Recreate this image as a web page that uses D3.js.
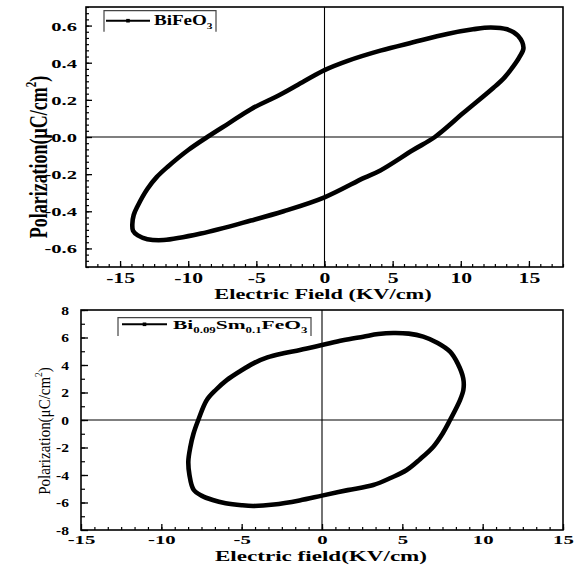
<!DOCTYPE html>
<html><head><meta charset="utf-8">
<script src="https://cdn.jsdelivr.net/npm/d3@7"></script>
<style>
body{margin:0;background:#fff}
svg{display:block}
text{font-family:"Liberation Serif","Times New Roman",serif;fill:#000}
</style>
</head><body>
<svg id="c" width="576" height="565"></svg>
<script>
// ---------- DATA ----------
// Top panel: BiFeO3 P-E loop (E in kV/cm, P in µC/cm²)
const fieldBFO = [-14.1,-14.0,-13.7,-13.0,-12.3,-11.5,-10.0,-8.6,-7.0,-5.4,-3.2,-1.5,0,1.7,4.1,6.5,9.0,10.9,12.2,13.4,14.2,14.6,14.3,13.85,13.2,12.4,10.2,8.1,6.5,4.1,2.9,0,-3.0,-5.4,-9.07,-11.8,-13.0,-13.7,-14.05];
const polBFO   = [-0.47,-0.42,-0.37,-0.28,-0.215,-0.16,-0.07,0.0,0.075,0.15,0.23,0.30,0.36,0.41,0.465,0.51,0.555,0.58,0.59,0.58,0.545,0.48,0.43,0.38,0.32,0.265,0.13,0.0,-0.07,-0.18,-0.22,-0.325,-0.40,-0.45,-0.52,-0.555,-0.55,-0.53,-0.505];
// Bottom panel: Bi0.09Sm0.1FeO3 P-E loop
const fieldBSFO = [-7.7,-7.17,-6.6,-5.93,-5.1,-4.27,-3.4,-2.4,-1.37,0,1.3,2.57,3.5,4.44,5.4,6.3,7.2,7.97,8.45,8.79,8.8,8.59,7.97,7.5,6.93,6.1,5.27,4.3,3.19,1.6,0,-1.4,-3.0,-4.27,-5.0,-6.0,-6.8,-7.5,-8.0,-8.25,-8.32,-8.2,-8.0];
const polBSFO   = [0.0,1.45,2.2,2.9,3.55,4.12,4.55,4.85,5.09,5.45,5.8,6.06,6.25,6.33,6.28,6.06,5.6,4.97,4.1,3.03,2.2,1.45,0.0,-1.0,-1.94,-2.85,-3.64,-4.2,-4.73,-5.1,-5.5,-5.85,-6.15,-6.25,-6.2,-6.05,-5.82,-5.5,-5.05,-4.0,-3.0,-2.0,-1.0];
// Axis ticks
const xTicksTop = [-15,-10,-5,0,5,10,15];
const yTicksTop = [-0.6,-0.4,-0.2,0.0,0.2,0.4,0.6];
const xTicksBot = [-15,-10,-5,0,5,10,15];
const yTicksBot = [-8,-6,-4,-2,0,2,4,6,8];
// Legend labels
const legendTopParts = [["BiFeO",false],["3",true]];
const legendBotParts = [["Bi",false],["0.09",true],["Sm",false],["0.1",true],["FeO",false],["3",true]];

// ---------- DRAW ----------
const svg = d3.select("#c");
const hy = s => s.replace(/\u2212/g,"-");

function panel(o){
  const g = svg.append("g");
  const x = d3.scaleLinear().domain(o.xDom).range([o.L,o.R]);
  const y = d3.scaleLinear().domain(o.yDom).range([o.B,o.T]);

  g.append("line").attr("x1",x(0)).attr("x2",x(0)).attr("y1",o.T).attr("y2",o.B)
    .attr("stroke","#000").attr("stroke-width",1.1);
  g.append("line").attr("x1",o.L).attr("x2",o.R).attr("y1",y(0)).attr("y2",y(0))
    .attr("stroke","#000").attr("stroke-width",1.1);

  const minorX = d3.range(o.xDom[0], o.xDom[1]+1e-6, o.xMinor).filter(v=>v>o.xDom[0]+1e-6);
  const minorY = d3.range(o.yMinorStart, o.yDom[1]+1e-6, o.yMinor);
  g.append("g").attr("transform",`translate(0,${o.B})`)
    .call(d3.axisBottom(x).tickValues(minorX).tickSize(-3).tickFormat(""))
    .call(s=>s.select(".domain").remove())
    .selectAll("line").attr("stroke-width",1.2);
  g.append("g").attr("transform",`translate(${o.L},0)`)
    .call(d3.axisLeft(y).tickValues(minorY).tickSize(-o.yMinorLen).tickFormat(""))
    .call(s=>s.select(".domain").remove())
    .selectAll("line").attr("stroke-width",1.2);

  const gx = g.append("g").attr("transform",`translate(0,${o.B})`)
    .call(d3.axisBottom(x).tickValues(o.xTicks).tickSizeInner(-6).tickSizeOuter(0)
      .tickFormat(d=>hy(d3.format("d")(d))));
  gx.select(".domain").remove();
  gx.selectAll("line").attr("stroke-width",1.3);
  gx.selectAll("text").attr("y",o.xLabY).attr("dy",0)
    .attr("font-size",o.xTickFs).attr("font-weight","bold").attr("font-family","Liberation Serif")
    .attr("transform",`scale(${o.xTickSx},1)`);

  const gy = g.append("g").attr("transform",`translate(${o.L},0)`)
    .call(d3.axisLeft(y).tickValues(o.yTicks).tickSizeInner(-o.yMajorLen).tickSizeOuter(0)
      .tickFormat(d=>hy(d3.format(o.yFmt)(d))));
  gy.select(".domain").remove();
  gy.selectAll("line").attr("stroke-width",1.3);
  gy.selectAll("text").attr("x",-o.yLabGap/o.yTickSx).attr("dy","0.35em")
    .attr("font-size",o.yTickFs).attr("font-weight","bold").attr("font-family","Liberation Serif")
    .attr("transform",`scale(${o.yTickSx},1)`);

  g.append("rect").attr("x",o.L).attr("y",o.T).attr("width",o.R-o.L).attr("height",o.B-o.T)
    .attr("fill","none").attr("stroke","#000").attr("stroke-width",1.6);

  const pts = o.xs.map((v,i)=>[v,o.ys[i]]);
  g.append("path").datum(pts)
    .attr("d",d3.line().x(d=>x(d[0])).y(d=>y(d[1])).curve(d3.curveCatmullRomClosed.alpha(0.5)))
    .attr("fill","none").attr("stroke","#000").attr("stroke-width",4.6)
    .attr("stroke-linejoin","round");
  return {g,x,y};
}

const panelTop = panel({
  L:86,R:563,T:7,B:267, xDom:[-17.5,17.5], yDom:[-0.7,0.7],
  xTicks:xTicksTop, yTicks:yTicksTop, yFmt:".1f",
  xMinor:5/6, yMinor:0.2/6, yMinorStart:-0.7, yMinorLen:3, yMajorLen:6,
  xTickFs:14, xTickSx:1.55, xLabY:16,
  yTickFs:13, yTickSx:1.58, yLabGap:9,
  xs:fieldBFO, ys:polBFO
});
const panelBot = panel({
  L:81,R:563,T:310,B:530, xDom:[-15,15], yDom:[-8,8],
  xTicks:xTicksBot, yTicks:yTicksBot, yFmt:"d",
  xMinor:5/6, yMinor:1, yMinorStart:-7, yMinorLen:4, yMajorLen:7,
  xTickFs:13, xTickSx:1.6, xLabY:14,
  yTickFs:11.5, yTickSx:1.35, yLabGap:12,
  xs:fieldBSFO, ys:polBSFO
});

function stretchedText(x0,y0,sx,rot,anchor,fs,weight,parts){
  const t = svg.append("text")
    .attr("transform",`translate(${x0},${y0}) scale(${sx},1)`+(rot?` rotate(${rot})`:""))
    .attr("text-anchor",anchor).attr("font-size",fs).attr("font-weight",weight);
  parts.forEach(p=>{
    const ts = t.append("tspan").text(p.t);
    if(p.sup){ ts.attr("font-size",fs*0.62).attr("dy",-fs*0.45); }
    if(p.back){ ts.attr("dy",p.back); }
  });
  return t;
}
stretchedText(323,299,1.6,0,"middle",14,"bold",[{t:"Electric Field (KV/cm)"}]);
stretchedText(321,561,1.65,0,"middle",14,"bold",[{t:"Electric field(KV/cm)"}]);
stretchedText(47,157,1.4,-90,"middle",18,"bold",[{t:"Polarization(\u03bcC/cm"},{t:"2",sup:true},{t:")",back:18*0.45}]);
stretchedText(49.5,431,1.12,-90,"middle",15,"normal",[{t:"Polarization(\u03bcC/cm"},{t:"2",sup:true},{t:")",back:15*0.45}]);

function legend(bx0,bx1,by0,by1,ly,lx0,lx1,tx,ty,fs,sx,parts){
  const g = svg.append("g");
  g.append("path").attr("d",`M${bx0},${by1}V${by0}H${bx1}V${by1}`)
    .attr("fill","none").attr("stroke","#444").attr("stroke-width",1.2);
  g.append("line").attr("x1",lx0).attr("x2",lx1).attr("y1",ly).attr("y2",ly)
    .attr("stroke","#000").attr("stroke-width",2);
  g.append("rect").attr("x",(lx0+lx1)/2-1.8).attr("y",ly-1.8).attr("width",3.6).attr("height",3.6).attr("fill","#000");
  const t = g.append("text").attr("transform",`translate(${tx},${ty}) scale(${sx},1)`)
    .attr("font-size",fs).attr("font-weight","bold");
  let prevSub=false;
  parts.forEach(([s,sub])=>{
    const ts=t.append("tspan").text(s);
    if(sub){ ts.attr("font-size",fs*0.6).attr("dy",fs*0.3); prevSub=true; }
    else if(prevSub){ ts.attr("dy",-fs*0.3); prevSub=false; }
  });
}
legend(104,216,10.7,31.7,20.7,106,150,154,25,14,1.36,legendTopParts);
legend(118,311,317.7,336,324.3,122,167,173,329,13,1.65,legendBotParts);
</script>
</body></html>
